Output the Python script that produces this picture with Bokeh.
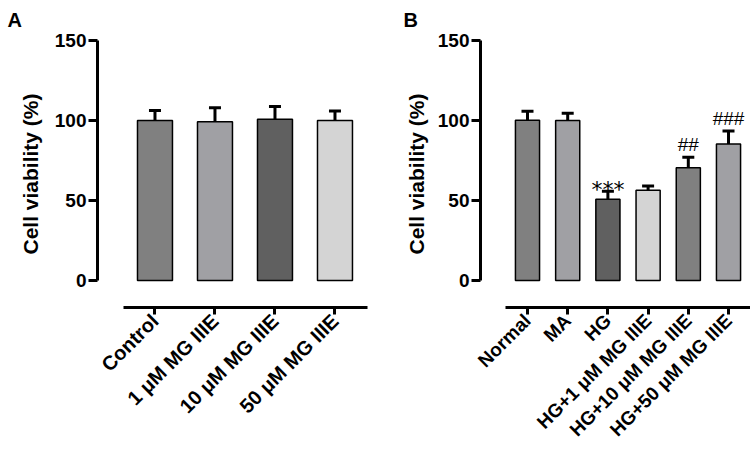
import math
from bokeh.plotting import figure
from bokeh.layouts import row
from bokeh.models import Range1d, FixedTicker, ColumnDataSource, Whisker, TeeHead
from bokeh.embed import file_html
from bokeh.resources import INLINE
from bokeh.core.properties import value

# ---------------- data ----------------
groups_a = ["Control", "1 \u03bcM MG IIIE", "10 \u03bcM MG IIIE", "50 \u03bcM MG IIIE"]
means_a = [100.0, 99.3, 100.8, 100.1]
errs_a = [6.2, 8.7, 7.9, 5.8]
colors_a = ["#808080", "#a0a0a4", "#606060", "#d4d4d4"]

groups_b = ["Normal", "MA", "HG", "HG+1 \u03bcM MG IIIE", "HG+10 \u03bcM MG IIIE", "HG+50 \u03bcM MG IIIE"]
means_b = [100.2, 100.0, 50.8, 56.4, 70.5, 85.4]
errs_b = [5.6, 4.5, 5.0, 2.7, 6.5, 8.1]
colors_b = ["#808080", "#a0a0a4", "#606060", "#d4d4d4", "#808080", "#a0a0a4"]
annot_b = ["", "", "***", "", "##", "###"]

y_ticks = [0, 50, 100, 150]
y_label = "Cell viability (%)"

FONT = "Liberation Sans"


def make_panel(letter, groups, means, errs, colors, annots, x_range, axis_bounds,
               border_left, border_right, bar_width, xlab_size, ylab_standoff, letter_offset):
    n = len(groups)
    xs = list(range(1, n + 1))
    uppers = [m + e for m, e in zip(means, errs)]
    src = ColumnDataSource(dict(x=xs, y=means, upper=uppers, color=colors))

    p = figure(width=375, height=452, output_backend="svg", toolbar_location=None,
               x_range=Range1d(*x_range), y_range=Range1d(-16.8, 150),
               min_border_left=border_left, min_border_right=border_right,
               min_border_top=39, min_border_bottom=145)
    p.outline_line_color = None
    p.xgrid.visible = False
    p.ygrid.visible = False
    p.background_fill_color = "white"
    p.border_fill_color = "white"

    p.title.text = letter
    p.title.text_font = FONT
    p.title.text_font_style = "bold"
    p.title.text_font_size = "20px"
    p.title.text_color = "black"
    p.title.align = "left"
    p.title.vertical_align = "top"
    p.title.offset = letter_offset
    p.title.standoff = 16

    p.vbar(x="x", top="y", bottom=0, width=bar_width, source=src,
           fill_color="color", line_color="black", line_width=1.5)

    w = Whisker(base="x", upper="upper", lower="y", source=src, dimension="height",
                line_color="black", line_width=3,
                upper_head=TeeHead(size=12, line_width=3, line_color="black"),
                lower_head=None)
    p.add_layout(w)

    if annots:
        star_idx = [i for i, a in enumerate(annots) if a.startswith("*")]
        hash_idx = [i for i, a in enumerate(annots) if a.startswith("#")]
        s_src = ColumnDataSource(dict(x=[xs[i] for i in star_idx],
                                      y=[uppers[i] for i in star_idx],
                                      t=[annots[i] for i in star_idx]))
        h_src = ColumnDataSource(dict(x=[xs[i] for i in hash_idx],
                                      y=[uppers[i] for i in hash_idx],
                                      t=[annots[i] for i in hash_idx]))
        p.text(x="x", y="y", text="t", source=s_src, text_align="center",
               text_baseline="middle", y_offset=-2, text_font=value("DejaVu Sans"),
               text_font_size="22px", text_color="black")
        p.text(x="x", y="y", text="t", source=h_src, text_align="center",
               text_baseline="bottom", y_offset=-2, text_font=value(FONT),
               text_font_size="19px", text_color="black")

    # y axis
    ya = p.yaxis[0]
    ya.ticker = FixedTicker(ticks=y_ticks)
    ya.bounds = (0, 150)
    ya.axis_line_width = 3
    ya.major_tick_line_width = 3
    ya.major_tick_in = 0
    ya.major_tick_out = 9
    ya.minor_tick_line_color = None
    ya.major_label_standoff = 2
    ya.major_label_text_font = FONT
    ya.major_label_text_font_style = "bold"
    ya.major_label_text_font_size = "19px"
    ya.major_label_text_color = "black"
    ya.axis_label = y_label
    ya.axis_label_text_font = FONT
    ya.axis_label_text_font_style = "bold"
    ya.axis_label_text_font_size = "21px"
    ya.axis_label_standoff = ylab_standoff
    ya.axis_label_text_color = "black"

    # x axis
    xa = p.xaxis[0]
    xa.ticker = FixedTicker(ticks=xs)
    xa.major_label_overrides = {i + 1: g for i, g in enumerate(groups)}
    xa.bounds = axis_bounds
    xa.axis_line_width = 3
    xa.major_tick_line_width = 3
    xa.major_tick_in = 0
    xa.major_tick_out = 7
    xa.minor_tick_line_color = None
    xa.major_label_standoff = 3
    xa.major_label_orientation = math.pi / 4
    xa.major_label_text_font = FONT
    xa.major_label_text_font_style = "bold"
    xa.major_label_text_font_size = xlab_size
    xa.major_label_text_color = "black"
    return p


pa = make_panel("A", groups_a, means_a, errs_a, colors_a, None,
                x_range=(0.042, 4.592), axis_bounds=(0.475, 4.54),
                border_left=97, border_right=5, bar_width=0.583,
                xlab_size="20px", ylab_standoff=10, letter_offset=-90)
pb = make_panel("B", groups_b, means_b, errs_b, colors_b, annot_b,
                x_range=(-0.169, 6.547), axis_bounds=(0.45, 6.547),
                border_left=105, border_right=0, bar_width=0.6,
                xlab_size="19px", ylab_standoff=7, letter_offset=-77)

layout = row(pa, pb)
open("out.html", "w").write(file_html(layout, INLINE))
